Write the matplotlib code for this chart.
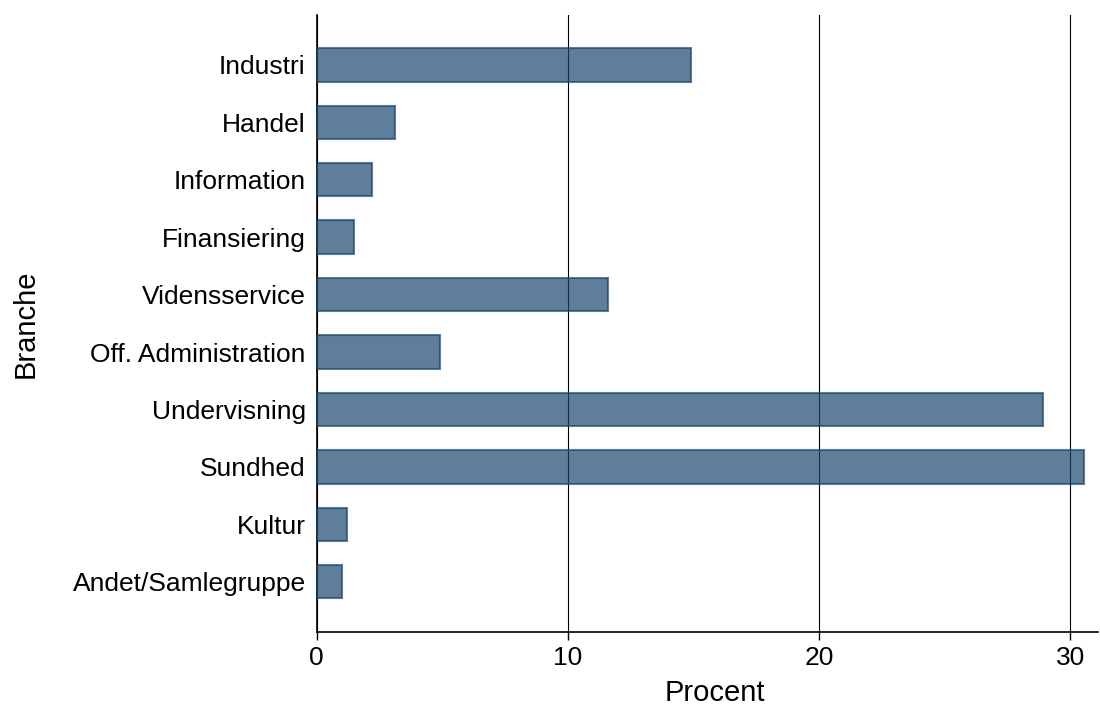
import matplotlib.pyplot as plt

categories = ["Industri", "Handel", "Information", "Finansiering", "Vidensservice",
              "Off. Administration", "Undervisning", "Sundhed", "Kultur", "Andet/Samlegruppe"]
values = [14.9, 3.1, 2.2, 1.5, 11.6, 4.9, 28.9, 30.55, 1.2, 1.0]
xticks = [0, 10, 20, 30]

plt.rcParams["font.family"] = ["Liberation Sans", "DejaVu Sans"]

fig = plt.figure(figsize=(11, 7.09), dpi=100)
ax = fig.add_axes([0.288, 0.109, 0.71, 0.87])

pos = list(range(len(categories)))
ax.barh(pos, values, height=0.58, color="#1a476f", alpha=0.7,
        edgecolor="#1a476f", linewidth=1.5, zorder=3)

ax.set_ylim(len(categories) - 1 + 0.87, -0.87)
ax.set_xlim(0, 31.1)
ax.set_yticks(pos)
ax.set_yticklabels(categories, fontsize=19)
ax.set_xticks(xticks)
ax.set_xticklabels([str(t) for t in xticks], fontsize=19)
ax.tick_params(axis="y", length=0, pad=8)
ax.tick_params(axis="x", length=6, width=1, direction="out", pad=4)

ax.grid(axis="x", color="black", linewidth=0.8, zorder=0)
ax.set_axisbelow(True)
for side in ["top", "right"]:
    ax.spines[side].set_visible(False)
ax.spines["left"].set_linewidth(1.2)
ax.spines["bottom"].set_linewidth(1.2)

ax.set_xlabel("Procent", fontsize=21)
ax.xaxis.set_label_coords(0.51, -0.077)
ax.set_ylabel("Branche", fontsize=21, labelpad=24)

fig.savefig("out.png", dpi=100)
